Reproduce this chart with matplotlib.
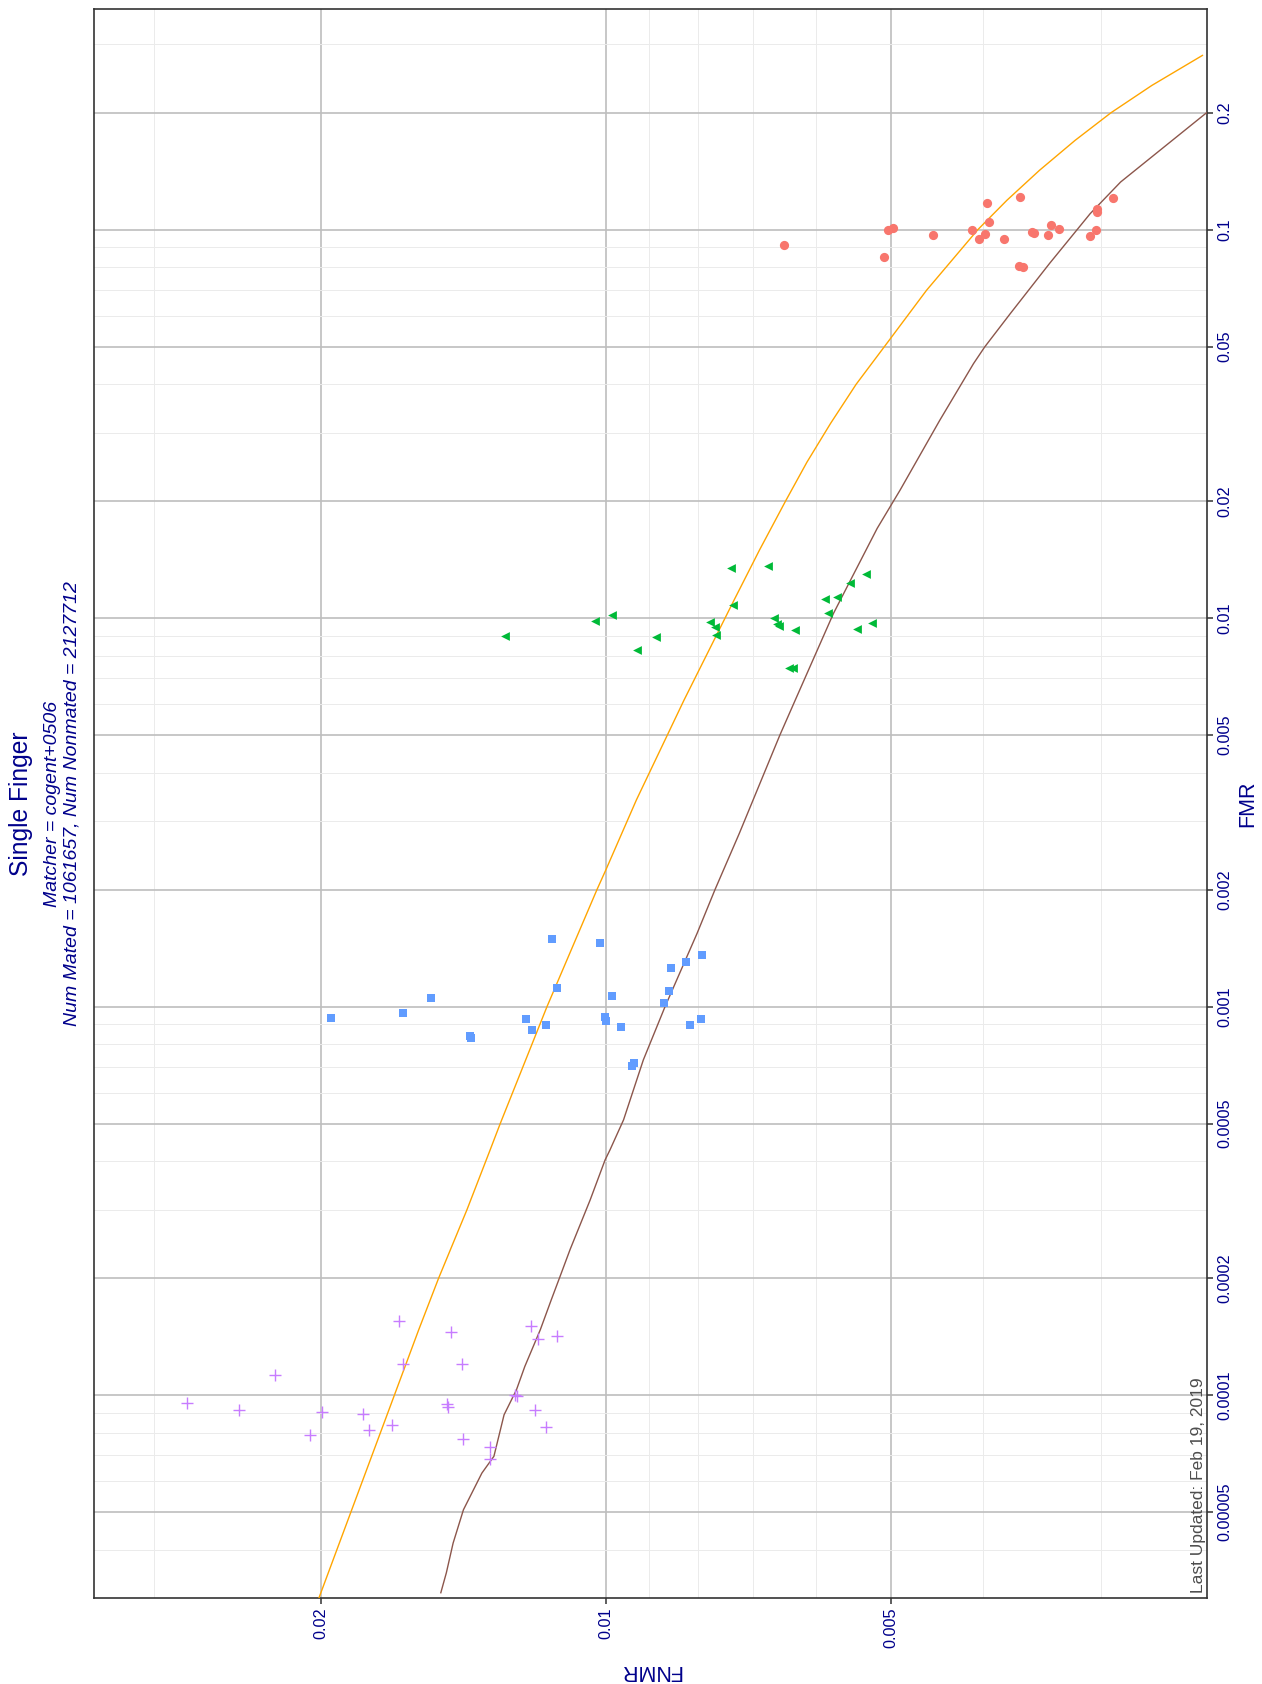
import matplotlib
matplotlib.use('Agg')
import matplotlib.pyplot as plt
from matplotlib.ticker import NullFormatter

plt.rcParams['font.family'] = ['Liberation Sans', 'DejaVu Sans']

NAVY = '#00008B'

# ---- data (FMR on the vertical axis, FNMR on the horizontal axis, as in the picture) ----
red_fnmr = [0.00503, 0.00497, 0.00509, 0.00451, 0.00411, 0.00404, 0.00398, 0.00396,
            0.00394, 0.00380, 0.00365, 0.00366, 0.00363, 0.00355, 0.00353, 0.00341,
            0.00339, 0.00332, 0.00308, 0.00304, 0.00303, 0.00303, 0.00291, 0.00648]
red_fmr = [0.0996, 0.1009, 0.0850, 0.0968, 0.0998, 0.0946, 0.0977, 0.117,
           0.1046, 0.0946, 0.1213, 0.0806, 0.0801, 0.0988, 0.0982, 0.0968,
           0.1028, 0.1004, 0.0963, 0.0998, 0.113, 0.111, 0.1206, 0.0913]

green_fnmr = [0.01278, 0.01026, 0.00986, 0.00928, 0.00886, 0.00777, 0.00767, 0.00765,
              0.00737, 0.00734, 0.00675, 0.00665, 0.00659, 0.00656, 0.00632, 0.00640,
              0.00634, 0.00587, 0.00570, 0.00582, 0.00552, 0.00531, 0.00543, 0.00524]
green_fmr = [0.00899, 0.00984, 0.01021, 0.00826, 0.00896, 0.00975, 0.00950, 0.00903,
             0.01342, 0.01078, 0.01361, 0.01000, 0.00965, 0.00955, 0.00930, 0.00742,
             0.00745, 0.01121, 0.01130, 0.01032, 0.01232, 0.01298, 0.00939, 0.00971]

blue_fnmr = [0.01952, 0.01637, 0.01529, 0.01392, 0.01388, 0.01214, 0.01196, 0.01156,
             0.01139, 0.01126, 0.01014, 0.01002, 0.00999, 0.00986, 0.00963, 0.00938,
             0.00934, 0.00868, 0.00857, 0.00854, 0.00823, 0.00815, 0.00792, 0.00793]
blue_fmr = [0.000937, 0.000965, 0.001054, 0.000842, 0.000832, 0.000931, 0.000873, 0.000899,
            0.001496, 0.001119, 0.001461, 0.000943, 0.000920, 0.001067, 0.000888, 0.000705,
            0.000718, 0.001024, 0.001099, 0.00126, 0.001305, 0.000899, 0.00136, 0.000931]

purple_fnmr = [0.02772, 0.02443, 0.02237, 0.02055, 0.01994, 0.01807, 0.01780, 0.01682,
               0.01654, 0.01637, 0.01473, 0.01468, 0.01459, 0.01420, 0.01417, 0.01324,
               0.01326, 0.01247, 0.01240, 0.01200, 0.01179, 0.01189, 0.01157, 0.01127]
purple_fmr = [0.0000954, 0.0000913, 0.0001124, 0.0000791, 0.0000903, 0.0000894, 0.0000815, 0.0000838,
              0.000155, 0.000120, 0.0000949, 0.0000932, 0.0001456, 0.0001204, 0.0000771, 0.0000737,
              0.0000686, 0.0001002, 0.0000992, 0.0001502, 0.0001394, 0.0000913, 0.0000828, 0.0001416]

# orange reference curve
ref_fmr = [0.000030, 0.000147, 0.0002, 0.0003, 0.000428, 0.0005, 0.001, 0.002, 0.00225,
           0.003402, 0.00615, 0.01112, 0.01496, 0.02, 0.0252, 0.03174, 0.03999, 0.0501,
           0.0698, 0.1, 0.119, 0.1421, 0.1697, 0.2, 0.235, 0.2808]
ref_fnmr = [0.0201, 0.01577, 0.01502, 0.01402, 0.01325, 0.01293, 0.01154, 0.01022, 0.0100,
            0.009286, 0.00827, 0.007323, 0.006884, 0.006461, 0.006133, 0.005789, 0.005441, 0.005076,
            0.004585, 0.004047, 0.003771, 0.003484, 0.003195, 0.002927, 0.002651, 0.002344]

# brown DET curve
det_fmr = [0.0000310, 0.0000349, 0.0000416, 0.0000507, 0.0000630, 0.0000696, 0.0000890, 0.0001032,
           0.0001185, 0.0001473, 0.000176, 0.000202, 0.000237, 0.000318, 0.000403, 0.000428,
           0.000511, 0.000729, 0.001, 0.001545, 0.002, 0.00279, 0.005, 0.00615, 0.01028,
           0.01303, 0.01702, 0.02135, 0.0323, 0.0452, 0.0499, 0.0608, 0.0818, 0.1099, 0.1326, 0.2]
det_fnmr = [0.01494, 0.01474, 0.01450, 0.01414, 0.01352, 0.01313, 0.01281, 0.01243,
            0.01218, 0.01173, 0.01142, 0.01118, 0.01091, 0.01039, 0.01002, 0.00990,
            0.00958, 0.00913, 0.00866, 0.00801, 0.00767, 0.00723, 0.00655, 0.00631, 0.00575,
            0.00547, 0.00517, 0.00489, 0.00444, 0.00409, 0.00398, 0.00374, 0.00340, 0.00308, 0.00286, 0.00232]

fmr_ticks = [0.00005, 0.0001, 0.0002, 0.0005, 0.001, 0.002, 0.005, 0.01, 0.02, 0.05, 0.1, 0.2]
fmr_labels = ['0.00005', '0.0001', '0.0002', '0.0005', '0.001', '0.002', '0.005',
              '0.01', '0.02', '0.05', '0.1', '0.2']
fnmr_ticks = [0.02, 0.01, 0.005]
fnmr_labels = ['0.02', '0.01', '0.005']

fig = plt.figure(figsize=(12.62, 16.84), dpi=100)
ax = fig.add_axes([0.07425, 0.05124, 0.88233, 0.94323])

ax.set_xscale('log')
ax.set_yscale('log')

# minor grid at the other multiples of each decade
minor_fmr = []
minor_fnmr = []
for dec in [1e-5, 1e-4, 1e-3, 1e-2, 1e-1]:
    for m in [3, 4, 6, 7, 8, 9]:
        minor_fmr.append(m * dec)
        minor_fnmr.append(m * dec)
ax.set_yticks(minor_fmr, minor=True)
ax.set_xticks(minor_fnmr, minor=True)
ax.xaxis.set_minor_formatter(NullFormatter())
ax.yaxis.set_minor_formatter(NullFormatter())

ax.yaxis.tick_right()
ax.set_yticks(fmr_ticks, fmr_labels, rotation=90, va='center', ha='left')
ax.set_xticks(fnmr_ticks, fnmr_labels, rotation=90, va='top', ha='center')
ax.set_xlim(0.03475, 0.002317)
ax.set_ylim(0.0000301, 0.369)

ax.tick_params(which='major', direction='out', length=4, width=1.1, color='#333333',
               labelcolor=NAVY, labelsize=11.7)
ax.tick_params(axis='y', which='major', pad=3)
ax.tick_params(axis='x', which='major', pad=3)
ax.tick_params(which='minor', length=0)

ax.set_axisbelow(True)
ax.grid(which='major', color='#BEBEBE', lw=1.2)
ax.grid(which='minor', color='#EBEBEB', lw=0.7)
for sp in ax.spines.values():
    sp.set_color('#333333')
    sp.set_linewidth(1.2)

ax.plot(ref_fnmr, ref_fmr, color='#FFA500', lw=1.0, zorder=3)
ax.plot(det_fnmr, det_fmr, color='#8C564B', lw=1.0, zorder=3)

ax.scatter(red_fnmr, red_fmr, s=44, marker='o', color='#F8766D', linewidths=0, zorder=4)
ax.scatter(green_fnmr, green_fmr, s=40, marker='<', color='#00BA38', linewidths=0, zorder=4)
ax.scatter(blue_fnmr, blue_fmr, s=33, marker='s', color='#619CFF', linewidths=0, zorder=4)
ax.scatter(purple_fnmr, purple_fmr, s=68, marker='+', color='#C77CFF', linewidths=1.0, zorder=4)

# titles (the whole chart is turned on its side)
yc = 1 - 803.5 / 1684
fig.text(20.8 / 1262, yc, 'Single Finger', rotation=90, ha='center', va='center',
         fontsize=17.7, color=NAVY)
fig.text(53 / 1262, yc, 'Matcher = cogent+0506', rotation=90, ha='center', va='center',
         fontsize=14, color=NAVY, style='italic')
fig.text(72 / 1262, yc, 'Num Mated = 1061657, Num Nonmated = 2127712', rotation=90,
         ha='center', va='center', fontsize=14, color=NAVY, style='italic')

fig.text(1247.7 / 1262, 1 - 803.3 / 1684, 'FMR', rotation=90, ha='center', va='center',
         fontsize=15.5, color=NAVY)
fig.text(650.5 / 1262, 1 - 1670.5 / 1684, 'FNMR', rotation=180, ha='center', va='center',
         fontsize=15.5, color=NAVY)

fig.text(1198 / 1262, 1 - 1593 / 1684, 'Last Updated: Feb 19, 2019', rotation=90,
         ha='center', va='bottom', fontsize=12.5, color='#4D4D4D')

fig.savefig('out.png', dpi=100)
